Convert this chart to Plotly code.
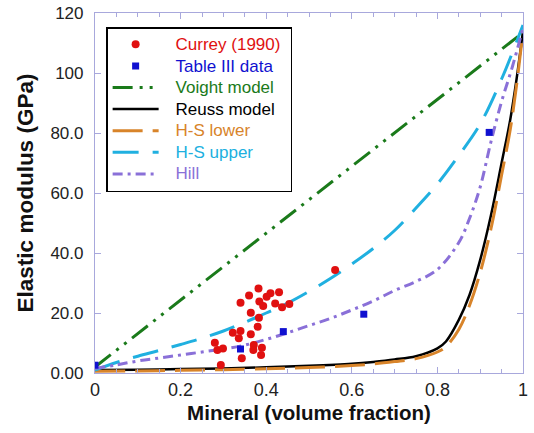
import plotly.graph_objects as go

# --- data ---
currey_x = [0.382, 0.360, 0.340, 0.410, 0.401, 0.430, 0.384, 0.393, 0.421, 0.437, 0.454,
            0.364, 0.383, 0.380, 0.340, 0.322, 0.336, 0.364, 0.280, 0.286, 0.299, 0.371,
            0.390, 0.370, 0.388, 0.343, 0.294, 0.561]
currey_y = [28.2, 25.8, 23.4, 26.6, 25.4, 26.9, 23.8, 22.3, 23.2, 21.9, 23.0,
            20.1, 18.4, 15.4, 14.0, 13.4, 11.6, 12.9, 10.1, 7.7, 8.2, 9.3,
            8.4, 7.7, 6.0, 4.9, 2.7, 34.3]

table_x = [0.0, 0.340, 0.440, 0.628, 0.921]
table_y = [2.6, 8.0, 13.8, 19.6, 80.2]

voigt_x = [0.0, 1.0]
voigt_y = [2.0, 113.5]

reuss_x = [0, 0.1, 0.2, 0.3, 0.4, 0.5, 0.6, 0.65, 0.7, 0.75, 0.8, 0.82, 0.85, 0.875,
           0.9, 0.925, 0.95, 0.97, 0.985, 1.0]
reuss_y = [1.0, 1.1, 1.3, 1.5, 1.9, 2.4, 3.1, 3.7, 4.5, 5.6, 8.2, 10.5, 17.7, 26.0,
           37.7, 52.5, 70.0, 84.3, 98.0, 114.0]

hs_lower_x = reuss_x
hs_lower_y = [0.6, 0.7, 0.9, 1.1, 1.4, 1.8, 2.5, 3.0, 3.8, 4.8, 7.0, 8.8, 14.5, 22.5,
              33.5, 48.0, 66.0, 81.0, 96.0, 114.0]

hs_upper_x = [0, 0.05, 0.1, 0.15, 0.2, 0.25, 0.3, 0.35, 0.4, 0.45, 0.5, 0.55, 0.6, 0.65,
              0.7, 0.75, 0.8, 0.85, 0.9, 0.95, 1.0]
hs_upper_y = [1.0, 3.5, 5.6, 7.5, 9.5, 11.6, 14.0, 16.9, 20.0, 23.3, 27.2, 31.5, 36.3, 41.5,
              47.5, 55.0, 63.0, 72.5, 83.0, 98.0, 116.0]

hill_x = [0, 0.05, 0.1, 0.15, 0.2, 0.25, 0.3, 0.35, 0.4, 0.45, 0.5, 0.55, 0.6, 0.65, 0.7,
          0.75, 0.8, 0.85, 0.875, 0.9, 0.925, 0.95, 0.975, 1.0]
hill_y = [1.5, 2.7, 4.0, 5.0, 6.0, 7.0, 8.0, 9.3, 11.2, 13.4, 15.8, 18.2, 21.0, 24.0, 27.5,
          30.5, 34.5, 43.5, 51.5, 62.0, 77.0, 90.5, 102.0, 115.0]

x_ticks = [0, 0.2, 0.4, 0.6, 0.8, 1.0]
x_ticklabels = ["0", "0.2", "0.4", "0.6", "0.8", "1"]
y_ticks = [0, 20, 40, 60, 80, 100, 120]
y_ticklabels = ["0.00", "20.0", "40.0", "60.0", "80.0", "100", "120"]

RED = "#e01010"
BLUE = "#1010d0"
GREEN = "#1a7a1a"
BLACK = "#000000"
ORANGE = "#d8842a"
CYAN = "#20b0e0"
PURPLE = "#8a70d8"

NB = "\u00a0"


def lab(text, color):
    return f"{NB*3}<span style='color:{color};font-size:17px'>{text}{NB}</span>"


fig = go.Figure()
fig.add_trace(go.Scatter(x=voigt_x, y=voigt_y, mode="lines", name=lab("Voight model", GREEN),
                         line=dict(color=GREEN, width=3, dash="20px,7px,3px,7px,3px,7px"),
                         legendrank=3))
fig.add_trace(go.Scatter(x=reuss_x, y=reuss_y, mode="lines", name=lab("Reuss model", BLACK),
                         line=dict(color=BLACK, width=2.5, shape="spline"), legendrank=4))
fig.add_trace(go.Scatter(x=hs_lower_x, y=hs_lower_y, mode="lines", name=lab("H-S lower", ORANGE),
                         line=dict(color=ORANGE, width=3, dash="30px,10px", shape="spline"),
                         legendrank=5))
fig.add_trace(go.Scatter(x=hs_upper_x, y=hs_upper_y, mode="lines", name=lab("H-S upper", CYAN),
                         line=dict(color=CYAN, width=3, dash="26px,14px", shape="spline"),
                         legendrank=6))
fig.add_trace(go.Scatter(x=hill_x, y=hill_y, mode="lines", name=lab("Hill", PURPLE),
                         line=dict(color=PURPLE, width=3, dash="10px,5px,3px,5px", shape="spline"),
                         legendrank=7))
fig.add_trace(go.Scatter(x=currey_x, y=currey_y, mode="markers", name=lab("Currey (1990)", RED),
                         marker=dict(color=RED, size=8, symbol="circle"), legendrank=1))
fig.add_trace(go.Scatter(x=table_x, y=table_y, mode="markers", name=lab("Table III data", BLUE),
                         marker=dict(color=BLUE, size=7, symbol="square"), legendrank=2))

axis_color = "#a8a8dc"
font_family = "Arial, Liberation Sans, sans-serif"

fig.update_layout(
    width=534, height=433,
    margin=dict(l=95, r=11, t=13, b=60),
    paper_bgcolor="white", plot_bgcolor="white",
    font=dict(family=font_family, size=15, color="#222222"),
    showlegend=True,
    legend=dict(x=0.026, y=0.961, xanchor="left", yanchor="top",
                bgcolor="white", bordercolor="black", borderwidth=1.5,
                font=dict(size=14.3), itemwidth=46, tracegroupgap=0),
    xaxis=dict(range=[0, 1], tickvals=x_ticks, ticktext=x_ticklabels,
               showgrid=False, zeroline=False, showline=True, linecolor=axis_color,
               linewidth=1.2, mirror="ticks", ticks="inside", ticklen=6,
               tickcolor=axis_color, automargin=False,
               minor=dict(dtick=0.05, ticks="inside", ticklen=4, tickcolor=axis_color),
               title=dict(text="<b>Mineral (volume fraction)</b>", font=dict(size=20.5, color="#111111"),
                          standoff=6),
               tickfont=dict(size=18, color="#222222")),
    yaxis=dict(range=[0, 120], tickvals=y_ticks, ticktext=y_ticklabels,
               showgrid=False, zeroline=False, showline=True, linecolor=axis_color,
               linewidth=1.2, mirror="ticks", ticks="inside", ticklen=6,
               tickcolor=axis_color, automargin=False, ticklabelstandoff=7,
               title=dict(text="<b>Elastic modulus (GPa)</b>", font=dict(size=22.5, color="#111111"),
                          standoff=10),
               tickfont=dict(size=17, color="#222222")),
)

fig.write_html("out.html", config={"displayModeBar": False},
               post_script="document.body.style.margin='0';document.body.style.overflow='hidden';")
